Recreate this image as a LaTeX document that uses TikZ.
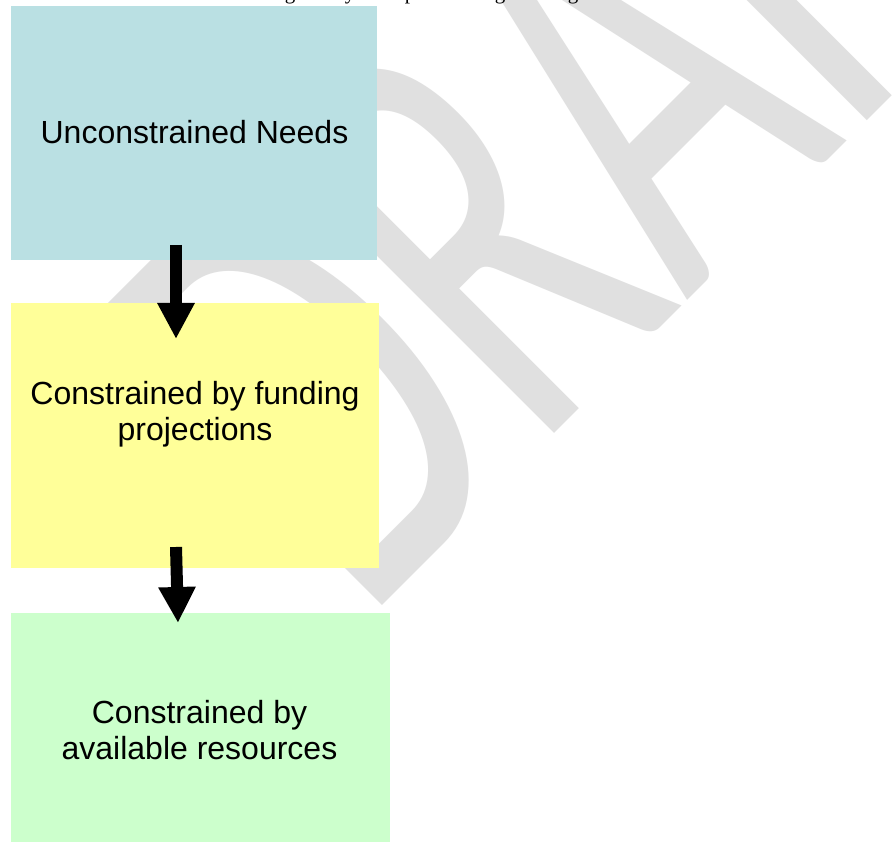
\documentclass[tikz,border=0pt]{standalone}
\usepackage{fontspec}
\setmainfont{Liberation Sans}
\newfontfamily\tnrfont{Liberation Serif}
\newfontfamily\wmfont{Carlito}
\usetikzlibrary{arrows.meta}
\definecolor{boxblue}{RGB}{186,224,227}
\definecolor{boxyellow}{RGB}{255,255,153}
\definecolor{boxgreen}{RGB}{204,255,204}
\definecolor{wmgray}{RGB}{224,224,224}
\begin{document}
\begin{tikzpicture}[x=1pt,y=1pt,
  box/.style={rectangle, draw=none, inner sep=0pt},
  lbl/.style={font=\fontsize{32}{36}\selectfont, align=center, inner sep=0pt},
  flow/.style={line width=12pt, draw=black, -{Triangle[length=36pt,width=35pt]}},
  frag/.style={font=\tnrfont\fontsize{21}{24}\selectfont, anchor=base, inner sep=0pt}]
\useasboundingbox (0,0) rectangle (896,842);
\clip (0,0) rectangle (896,842);
\fill[white] (0,0) rectangle (896,842);
% watermark
\begin{scope}[shift={(362.5,216.5)}, rotate=45, xscale=3.95, yscale=6.35]
  \node[anchor=base west, inner sep=0pt, transform shape, text=wmgray,
        font=\wmfont\fontsize{100}{100}\selectfont] (wm) at (0,0) {DRAFT};
\end{scope}
% fragments of the line above (only descenders show)
\node[frag] (f1) at (290,842) {g};
\node[frag] (f2) at (350,842) {y};
\node[frag] (f3) at (410,842) {p};
\node[frag] (f4) at (500,842) {g};
\node[frag] (f5) at (573,842) {g};
% boxes
\node[box, fill=boxblue, minimum width=366pt, minimum height=254pt] (needs) at (194,709) {};
\node[box, fill=boxyellow, minimum width=368pt, minimum height=265pt] (fund) at (195,406.5) {};
\node[box, fill=boxgreen, minimum width=379pt, minimum height=229pt] (res) at (200.5,114.5) {};
% texts
\node[lbl] (needstxt) at (194.5,709.5) {Unconstrained Needs};
\node[lbl] (fundtxt) at (195,427.5) {Constrained by funding\\projections};
\node[lbl] (restxt) at (199.5,112) {Constrained by\\available resources};
% arrows
\coordinate (a1s) at (176,597);
\coordinate (a1e) at (176,503);
\coordinate (a2s) at (176,295);
\coordinate (a2e) at (178,219);
\draw[flow] (a1s) -- (a1e);
\draw[flow] (a2s) -- (a2e);
\end{tikzpicture}
\end{document}
